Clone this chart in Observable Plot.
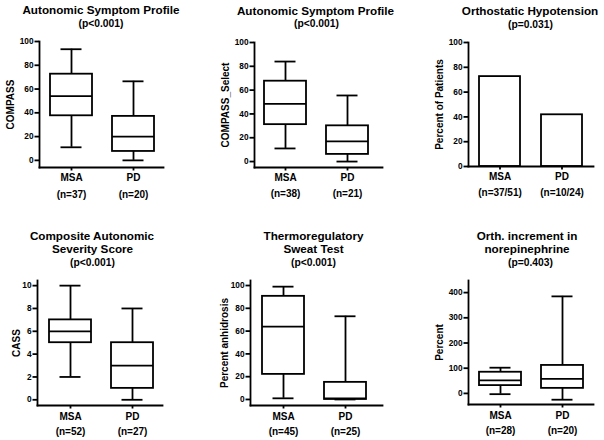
<!DOCTYPE html>
<html><head><meta charset="utf-8">
<script src="https://cdn.jsdelivr.net/npm/d3@7"></script>
<script src="https://cdn.jsdelivr.net/npm/@observablehq/plot@0.6"></script>
<style>
body{margin:0;background:#fff;}
#fig{position:relative;width:604px;height:440px;font-family:"Liberation Sans",Arial,sans-serif;font-weight:bold;color:#000;overflow:hidden;background:#fff}
.cell{position:absolute}
.cell svg{overflow:visible}
.t{position:absolute;white-space:nowrap;transform:translateX(-50%);text-align:center}
</style></head><body><div id="fig"></div>
<script>
// ---- data ----
const groups = ["MSA", "PD"];

// Panel 1: Autonomic Symptom Profile (COMPASS)
const compassN = ["(n=37)", "(n=20)"];
const compassLow = [11, 0];
const compassQ1 = [37.5, 7.5];
const compassMed = [54, 20];
const compassQ3 = [72.5, 37];
const compassHigh = [93.5, 66.5];

// Panel 2: Autonomic Symptom Profile (COMPASS_Select)
const selectN = ["(n=38)", "(n=21)"];
const selectLow = [11, 0];
const selectQ1 = [31, 6];
const selectMed = [48.5, 17];
const selectQ3 = [67.5, 30];
const selectHigh = [84, 55.5];

// Panel 3: Orthostatic Hypotension
const ohN = ["(n=37/51)", "(n=10/24)"];
const ohPercent = [72.5, 41.7];

// Panel 4: CASS
const cassN = ["(n=52)", "(n=27)"];
const cassLow = [2, 0];
const cassQ1 = [5, 1];
const cassMed = [6, 3];
const cassQ3 = [7, 5];
const cassHigh = [10, 8];

// Panel 5: Thermoregulatory Sweat Test
const tstN = ["(n=45)", "(n=25)"];
const tstLow = [1, 0];
const tstQ1 = [22, 0];
const tstMed = [64, 1];
const tstQ3 = [90.5, 15];
const tstHigh = [99, 73];

// Panel 6: Orthostatic increment in norepinephrine
const neN = ["(n=28)", "(n=20)"];
const neLow = [-3, -25];
const neQ1 = [31, 20];
const neMed = [52, 58];
const neQ3 = [84, 111];
const neHigh = [102, 385];

// tick labels
const ticks100 = [0, 20, 40, 60, 80, 100];
const ticks10 = [0, 2, 4, 6, 8, 10];
const ticks400 = [0, 100, 200, 300, 400];

// titles
const titles = [
  ["Autonomic Symptom Profile", "(p<0.001)"],
  ["Autonomic Symptom Profile", "(p<0.001)"],
  ["Orthostatic Hypotension", "(p=0.031)"],
  ["Composite Autonomic", "Severity Score", "(p<0.001)"],
  ["Thermoregulatory", "Sweat Test", "(p<0.001)"],
  ["Orth. increment in", "norepinephrine", "(p=0.403)"]
];
const yLabels = ["COMPASS", "COMPASS_Select", "Percent of Patients", "CASS", "Percent anhidrosis", "Percent"];

// ---- layout ----
const FONT = '"Liberation Sans", Arial, sans-serif';
const SW = 1.8;
const fig = document.getElementById("fig");

function addTitle(lines, xs, ys) {
  lines.forEach((s, i) => {
    const d = document.createElement("div");
    d.className = "t";
    const fs = i === lines.length - 1 ? 10.3 : 11.7;
    d.style.fontSize = fs + "px";
    d.style.lineHeight = "14px";
    d.style.height = "14px";
    d.style.left = xs[i] + "px";
    d.style.top = (ys[i] - 7) + "px";
    d.textContent = s;
    fig.appendChild(d);
  });
}

function common(cfg, nLabels) {
  const nOf = new Map(groups.map((g, i) => [g, nLabels[i]]));
  return [
    Plot.frame({anchor: "left", strokeWidth: SW}),
    Plot.frame({anchor: "bottom", strokeWidth: SW}),
    Plot.axisY({ticks: cfg.ticks, tickSize: 4.5, tickPadding: 1.5, fontSize: 8.3, label: null, strokeWidth: SW}),
    Plot.axisX({tickSize: 3.5, tickPadding: cfg.tp, fontSize: 10, lineHeight: cfg.lh,
      tickFormat: d => d + "\n" + nOf.get(d), label: null, strokeWidth: SW}),
    Plot.text([cfg.ylabel], {text: d => d, frameAnchor: "left", textAnchor: "middle", lineAnchor: "middle",
      rotate: -90, dx: cfg.ldx, fontSize: 10, fontWeight: "bold"})
  ];
}

function place(cfg, marks) {
  const p = Plot.plot({
    width: cfg.w, height: cfg.h,
    marginLeft: cfg.ml, marginRight: cfg.mr, marginTop: cfg.mt, marginBottom: cfg.mb,
    style: {fontFamily: FONT, fontWeight: "bold", color: "black", background: "white", overflow: "visible"},
    x: {type: "band", domain: groups, paddingInner: cfg.pi, paddingOuter: cfg.po, align: cfg.al, axis: null},
    y: {domain: cfg.domain, axis: null},
    marks
  });
  const div = document.createElement("div");
  div.className = "cell";
  div.style.left = cfg.left + "px";
  div.style.top = cfg.top + "px";
  div.appendChild(p);
  fig.appendChild(div);
}

function boxPanel(cfg, low, q1, med, q3, high, nLabels) {
  const rows = groups.map((g, i) => ({g, low: low[i], q1: q1[i], med: med[i], q3: q3[i], high: high[i]}));
  const cap = cfg.cap;
  const marks = [
    Plot.ruleX(rows, {x: "g", y1: "low", y2: "q1", strokeWidth: SW}),
    Plot.ruleX(rows, {x: "g", y1: "q3", y2: "high", strokeWidth: SW}),
    Plot.barY(rows, {x: "g", y1: "q1", y2: "q3", fill: "white", stroke: "black", strokeWidth: SW, inset: 0}),
    Plot.tickY(rows, {x: "g", y: "med", strokeWidth: SW}),
    Plot.tickY(rows, {x: "g", y: "low", strokeWidth: SW, insetLeft: cap, insetRight: cap}),
    Plot.tickY(rows, {x: "g", y: "high", strokeWidth: SW, insetLeft: cap, insetRight: cap}),
    ...common(cfg, nLabels)
  ];
  place(cfg, marks);
}

function barPanel(cfg, values, nLabels) {
  const rows = groups.map((g, i) => ({g, v: values[i]}));
  const marks = [
    Plot.barY(rows, {x: "g", y: "v", fill: "white", stroke: "black", strokeWidth: SW, inset: 0}),
    ...common(cfg, nLabels)
  ];
  place(cfg, marks);
}

// Panel 1
boxPanel({left: 0, top: 0, w: 200, h: 220, ml: 39, mr: 37, mt: 41, mb: 53, domain: [-6, 100],
  pi: 0.32, po: 0.152, al: 0.53, ticks: ticks100, ylabel: yLabels[0], ldx: -29, lh: 1.65, tp: -1.5, cap: 10.5},
  compassLow, compassQ1, compassMed, compassQ3, compassHigh, compassN);
addTitle(titles[0], [101, 101], [10, 23.5]);

// Panel 2
boxPanel({left: 200, top: 0, w: 200, h: 220, ml: 54, mr: 18, mt: 42, mb: 53, domain: [-5, 100],
  pi: 0.32, po: 0.184, al: 0.43, ticks: ticks100, ylabel: yLabels[1], ldx: -28.5, lh: 1.6, tp: -1, cap: 10.5},
  selectLow, selectQ1, selectMed, selectQ3, selectHigh, selectN);
addTitle(titles[1], [315.5, 316.5], [10.5, 23.5]);

// Panel 3
barPanel({left: 400, top: 0, w: 204, h: 220, ml: 68, mr: 11, mt: 42, mb: 54, domain: [0, 100],
  pi: 0.333, po: 0.159, al: 0.5, ticks: ticks100, ylabel: yLabels[2], ldx: -29, lh: 1.6, tp: -1},
  ohPercent, ohN);
addTitle(titles[2], [530, 530.5], [11, 24.5]);

// Panel 4
boxPanel({left: 0, top: 220, w: 200, h: 220, ml: 37, mr: 38, mt: 60, mb: 35, domain: [-0.5, 10.45],
  pi: 0.33, po: 0.173, al: 0.56, ticks: ticks10, ylabel: yLabels[3], ldx: -21, lh: 1.5, tp: 0, cap: 10.5},
  cassLow, cassQ1, cassMed, cassQ3, cassHigh, cassN);
addTitle(titles[3], [92, 92.5, 92.5], [236, 248.5, 262.5]);

// Panel 5
boxPanel({left: 200, top: 220, w: 200, h: 220, ml: 50, mr: 18, mt: 60, mb: 35, domain: [-5.3, 104.4],
  pi: 0.315, po: 0.222, al: 0.44, ticks: ticks100, ylabel: yLabels[4], ldx: -26, lh: 1.5, tp: 0, cap: 10.5},
  tstLow, tstQ1, tstMed, tstQ3, tstHigh, tstN);
addTitle(titles[4], [313.5, 313.5, 313.5], [236, 248.5, 262.5]);

// Panel 6
boxPanel({left: 400, top: 220, w: 204, h: 220, ml: 68, mr: 11, mt: 60, mb: 36, domain: [-44, 448],
  pi: 0.325, po: 0.155, al: 0.51, ticks: ticks400, ylabel: yLabels[5], ldx: -29, lh: 1.5, tp: 0, cap: 10.5},
  neLow, neQ1, neMed, neQ3, neHigh, neN);
addTitle(titles[5], [527, 527, 530.5], [236, 249, 262.5]);
</script></body></html>
